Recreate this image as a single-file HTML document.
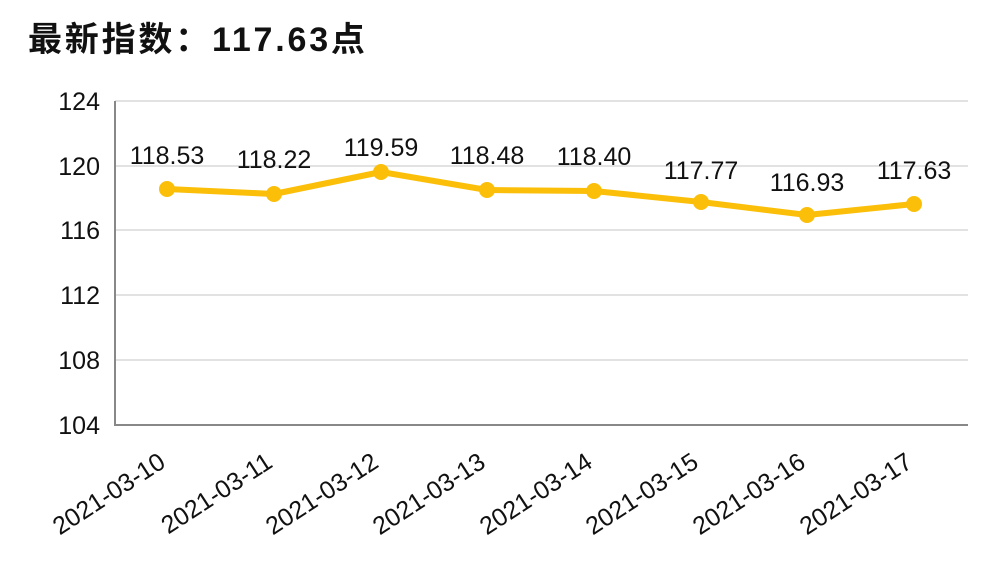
<!DOCTYPE html>
<html><head><meta charset="utf-8"><style>
html,body{margin:0;padding:0;background:#fff;width:1000px;height:566px;overflow:hidden}
svg{display:block;font-family:"Liberation Sans","Noto Sans CJK SC",sans-serif}
</style></head><body>
<svg width="1000" height="566" xmlns="http://www.w3.org/2000/svg">
<text x="28" y="51" font-size="34" font-weight="bold" fill="#111" letter-spacing="2.8">最新指数：117.63点</text>
<g stroke="#d9d9d9" stroke-width="1.5">
<line x1="115" y1="101" x2="968" y2="101"/>
<line x1="115" y1="166" x2="968" y2="166"/>
<line x1="115" y1="230" x2="968" y2="230"/>
<line x1="115" y1="295" x2="968" y2="295"/>
<line x1="115" y1="360" x2="968" y2="360"/>
</g>
<polyline points="115,101 115,425 968,425" fill="none" stroke="#888" stroke-width="2"/>
<g font-size="25" fill="#111" text-anchor="end">
<text x="100" y="110">124</text>
<text x="100" y="175">120</text>
<text x="100" y="239">116</text>
<text x="100" y="304">112</text>
<text x="100" y="369">108</text>
<text x="100" y="434">104</text>
</g>
<polyline points="167,189 274,194 381,172 487,190 594,191 701,202 807,215 914,204" fill="none" stroke="#fbbf09" stroke-width="6" stroke-linejoin="round"/>
<g fill="#fbbf09">
<circle cx="167" cy="189" r="8"/><circle cx="274" cy="194" r="8"/><circle cx="381" cy="172" r="8"/><circle cx="487" cy="190" r="8"/><circle cx="594" cy="191" r="8"/><circle cx="701" cy="202" r="8"/><circle cx="807" cy="215" r="8"/><circle cx="914" cy="204" r="8"/>
</g>
<g font-size="25" fill="#111" text-anchor="middle">
<text x="167" y="164">118.53</text>
<text x="274" y="168">118.22</text>
<text x="381" y="156">119.59</text>
<text x="487" y="164">118.48</text>
<text x="594" y="165">118.40</text>
<text x="701" y="179">117.77</text>
<text x="807" y="191">116.93</text>
<text x="914" y="179">117.63</text>
</g>
<g font-size="25" fill="#111" text-anchor="end">
<text transform="translate(167,466) rotate(-33)">2021-03-10</text>
<text transform="translate(274,466) rotate(-33)">2021-03-11</text>
<text transform="translate(380,466) rotate(-33)">2021-03-12</text>
<text transform="translate(487,466) rotate(-33)">2021-03-13</text>
<text transform="translate(594,466) rotate(-33)">2021-03-14</text>
<text transform="translate(700,466) rotate(-33)">2021-03-15</text>
<text transform="translate(807,466) rotate(-33)">2021-03-16</text>
<text transform="translate(914,466) rotate(-33)">2021-03-17</text>
</g>
</svg>
</body></html>
